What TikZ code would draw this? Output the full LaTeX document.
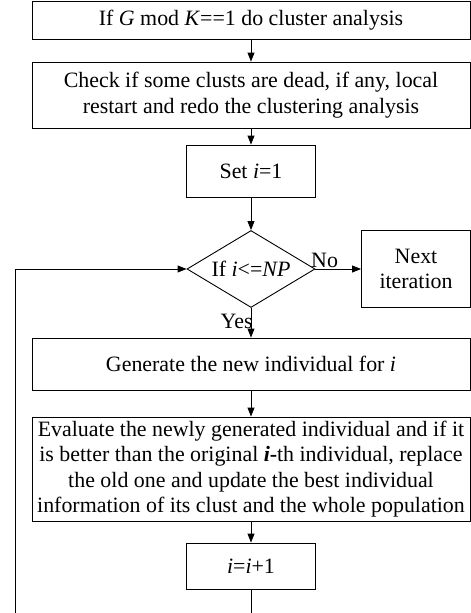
\documentclass[tikz,border=0pt]{standalone}
\usepackage{fontspec}
\setmainfont{Liberation Serif}
\usetikzlibrary{shapes,arrows.meta,positioning}

\begin{document}
\begin{tikzpicture}[x=1pt, y=1pt, >={Triangle[length=9pt,width=7pt]}, line width=0.9pt, font=\fontsize{21.9}{25.4}\selectfont]
				\useasboundingbox (0,0) rectangle (471,-613);
				\node[draw, rectangle, minimum width=438pt, minimum height=38pt, align=center] (init) at (251,-20) {If \textit{G} mod \textit{K}==1 do cluster analysis};
				\node[draw, rectangle, minimum width=438pt, minimum height=66pt, align=center] (check) [below of=init, node distance=75pt] {Check if some clusts are dead, if any, local\\restart and redo the clustering analysis};
				\node[draw, rectangle, minimum width=129pt, minimum height=52pt, align=center] (seti) [below of=check, node distance=76pt] {Set \textit{i}=1};
				\node[draw, diamond, aspect=1.66, minimum width=128pt, minimum height=77pt, inner sep=0pt] (cond) [below of=seti, node distance=98pt] {If \textit{i}<=\textit{NP}};
				\node[draw, rectangle, minimum width=109pt, minimum height=77pt, align=center, inner sep=1pt] (next) [right of=cond, node distance=165pt] {Next\\iteration};
				\node[draw, rectangle, minimum width=438pt, minimum height=52pt, align=center] (gen) [below of=cond, node distance=95pt] {Generate the new individual for \textit{i}};
				\node[draw, rectangle, minimum width=438pt, minimum height=104pt, align=center, inner sep=1pt] (eval) [below of=gen, node distance=105pt] {Evaluate the newly generated individual and if it\\is better than the original \textbf{\textit{i}-}th individual, replace\\the old one and update the best individual\\information of its clust and the whole population};
				\node[draw, rectangle, minimum width=129pt, minimum height=46pt, align=center] (inc) [below of=eval, node distance=97pt] {\textit{i}=\textit{i}+1};
				\coordinate (loopin) at (15,-613);
				\coordinate (incout) at (inc.south |- loopin);
				\draw[->] (init) -- (check);
				\draw[->] (check) -- (seti);
				\draw[->] (seti) -- (cond);
				\draw[->] (cond) -- node[pos=0.2, above, inner sep=1pt] {No} (next);
				\draw[->] (cond) -- node[pos=0.45, left, inner sep=0pt, xshift=2pt] {Yes} (gen);
				\draw[->] (gen) -- (eval);
				\draw[->] (eval) -- (inc);
				\draw (inc) -- (incout);
				\draw[->] (loopin) |- (cond.west);
			\end{tikzpicture}
\end{document}
